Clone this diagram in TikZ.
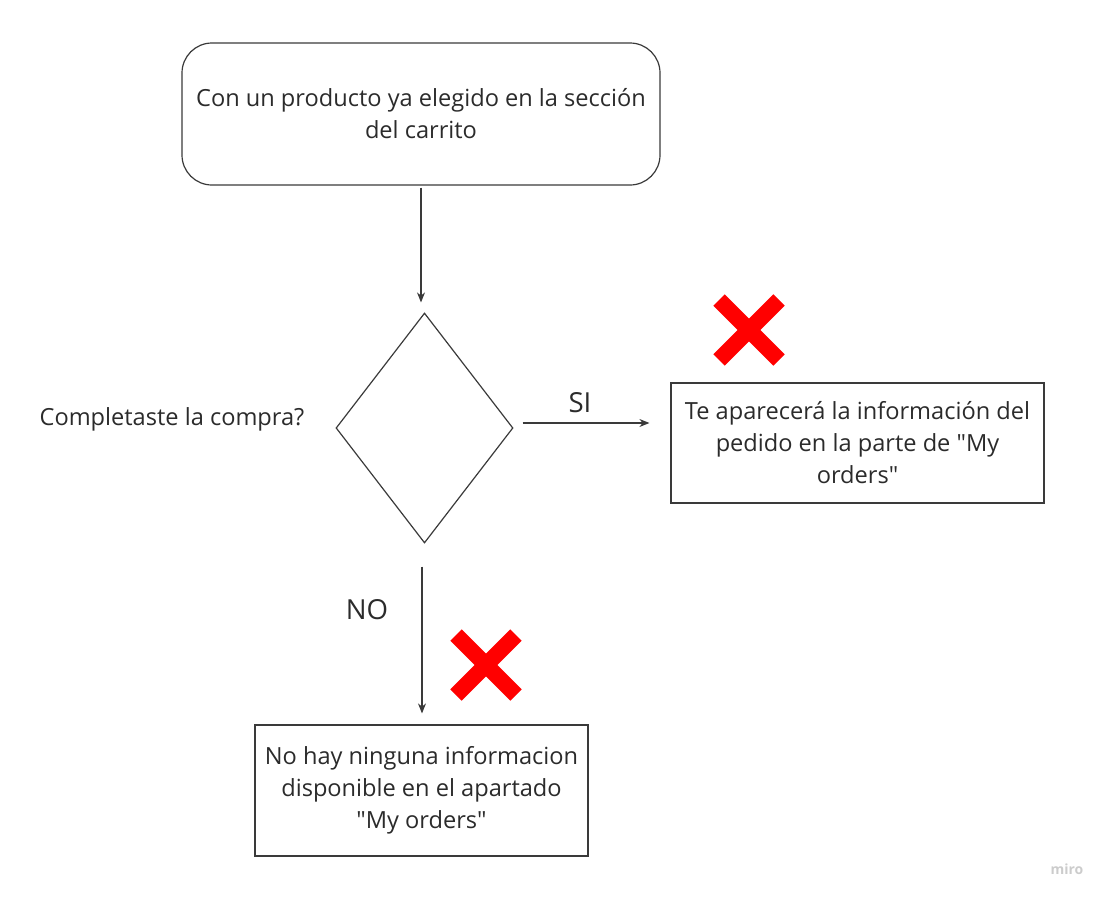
\documentclass[tikz,border=0pt]{standalone}
\usepackage{fontspec}
\newfontfamily\diagfont{Open Sans}
\usetikzlibrary{shapes.geometric,arrows.meta}
\definecolor{inkgray}{HTML}{2B2B2B}
\definecolor{linegray}{HTML}{3A3A3A}
\definecolor{crossred}{HTML}{FF0000}
\tikzset{
  box/.style={draw=linegray,line width=0.6pt,align=center,text=inkgray,
    font=\diagfont\fontsize{11.8}{16}\selectfont},
  decision/.style={diamond,draw=linegray,line width=0.6pt,inner sep=0pt},
  flow/.style={draw=linegray,line width=0.6pt,-{Stealth[length=5pt,width=4pt]}},
  tag/.style={text=inkgray,font=\diagfont\fontsize{13.8}{16}\selectfont},
  cross/.style={draw=crossred,line width=8pt},
}
\begin{document}
\begin{tikzpicture}[x=0.5pt,y=-0.5pt]
  \useasboundingbox (0,0) rectangle (1110,900);
  % boxes
  \node[box,rounded corners=15pt,minimum width=239pt,minimum height=71pt]
    (cart) at (421,114) {Con un producto ya elegido en la sección\\del carrito};
  \node[decision,minimum width=88.5pt,minimum height=115pt,aspect=0.77]
    (done) at (424.5,428) {};
  \node[box,draw=none] (ask) at (172,419) {Completaste la compra?};
  \node[box,minimum width=186.5pt,minimum height=60pt]
    (orders) at (857.5,443) {Te aparecerá la información del\\pedido en la parte de "My\\orders"};
  \node[box,minimum width=166.5pt,minimum height=65.5pt]
    (empty) at (421.5,790.5) {No hay ninguna informacion\\disponible en el apartado\\"My orders"};
  % connectors
  \draw[flow,shorten <=1pt,shorten >=5pt] (cart.south) -- (cart.south |- done.north);
  \draw[flow,shorten <=4.5pt,shorten >=10.5pt] ([yshift=2.5pt]done.east) -- ([yshift=2.5pt]orders.west |- done.east);
  \draw[flow,shorten <=11.5pt,shorten >=5.5pt] ([xshift=-1.25pt]done.south) -- ([xshift=-1.25pt]done.south |- empty.north);
  \node[tag] (si) at (580,403) {SI};
  \node[tag] (no) at (367,610) {NO};
  % red marks
  \foreach \cx/\cy in {749/330,486/665} {
    \draw[cross] (\cx-30,\cy-30) -- (\cx+30,\cy+30);
    \draw[cross] (\cx+30,\cy-30) -- (\cx-30,\cy+30);
  }
  \node[text=black!20,font=\diagfont\bfseries\fontsize{7}{8}\selectfont] (logo) at (1067,869) {miro};
\end{tikzpicture}
\end{document}
